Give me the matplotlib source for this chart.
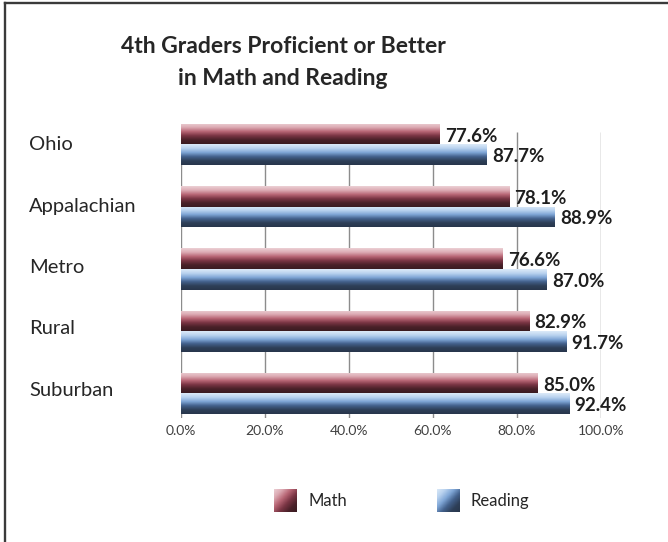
import numpy as np
import matplotlib
matplotlib.use("Agg")
import matplotlib.pyplot as plt
from matplotlib.colors import LinearSegmentedColormap
from matplotlib.lines import Line2D

plt.rcParams['font.family'] = ['Lato', 'DejaVu Sans']

regions = ["Ohio", "Appalachian", "Metro", "Rural", "Suburban"]
# bar lengths as drawn in the picture (Ohio bars are drawn shorter than their labels)
math = [61.6, 78.1, 76.6, 82.9, 85.0]
reading = [72.8, 88.9, 87.0, 91.7, 92.4]
math_labels = ["77.6%", "78.1%", "76.6%", "82.9%", "85.0%"]
reading_labels = ["87.7%", "88.9%", "87.0%", "91.7%", "92.4%"]
ticks = [0, 20, 40, 60, 80, 100]

W, H = 668, 542
fig = plt.figure(figsize=(W / 100, H / 100), dpi=100)


def px(x0, y0, x1, y1):
    # pixel box (top-left origin) -> figure fraction rect
    return [x0 / W, 1 - y1 / H, (x1 - x0) / W, (y1 - y0) / H]


math_cm = LinearSegmentedColormap.from_list(
    "m", ["#ecd0d5", "#dcaab3", "#b86675", "#7a3544", "#4a2129", "#3a1b21"])
read_cm = LinearSegmentedColormap.from_list(
    "r", ["#dceaf8", "#b9d2ef", "#7fa6d6", "#43618c", "#2e3f58", "#28364b"])

ax = fig.add_axes(px(181, 113, 601, 418))
n = len(regions)
pos = np.arange(n)[::-1]
h = 0.33
grad = np.linspace(0, 1, 100).reshape(-1, 1)

for vals, off, cm in [(math, h / 2, math_cm), (reading, -h / 2, read_cm)]:
    bars = ax.barh(pos + off, vals, height=h, color="none", zorder=2)
    for b in bars:
        x0, y0 = b.get_x(), b.get_y()
        im = ax.imshow(grad, cmap=cm, aspect="auto", origin="upper",
                       extent=(x0, x0 + b.get_width(), y0, y0 + b.get_height()),
                       zorder=3, interpolation="bilinear")
        im.set_clip_path(b)

for i in range(n):
    ax.text(math[i] + 1.3, pos[i] + h / 2 - 0.03, math_labels[i], va="center", ha="left",
            fontsize=13.5, fontweight="bold", color="#1e1e1e", zorder=4)
    ax.text(reading[i] + 1.3, pos[i] - h / 2 - 0.03, reading_labels[i], va="center",
            ha="left", fontsize=13.5, fontweight="bold", color="#1e1e1e", zorder=4)

ax.set_xlim(0, 100)
ax.set_ylim(-0.394, 4.506)
ax.vlines(ticks, -0.394, 4.2, color="#8c8c8c", lw=1, zorder=1)
ax.set_xticks(ticks)
ax.set_xticklabels(["%.1f%%" % t for t in ticks], fontsize=10, color="#404040")
ax.tick_params(axis="x", length=0, pad=5)
ax.set_yticks([])
for s in ax.spines.values():
    s.set_visible(False)
ax.patch.set_alpha(0)

for i, r in enumerate(regions):
    fig.text(29 / W, 1 - (145 + i * 61.3) / H, r, fontsize=14.5, color="#262626",
             va="center", ha="left")

fig.text(283 / W, 1 - 53 / H, "4th Graders Proficient or Better", fontsize=16.5,
         fontweight="bold", color="#262626", ha="center", va="baseline")
fig.text(283 / W, 1 - 85 / H, "in Math and Reading", fontsize=16.5,
         fontweight="bold", color="#262626", ha="center", va="baseline")

# legend
yy, xx = np.mgrid[0:1:40j, 0:1:40j]
diag = (xx + yy) / 2
for (x0, label, cm) in [(274, "Math", math_cm), (437, "Reading", read_cm)]:
    lax = fig.add_axes(px(x0, 489, x0 + 23, 512))
    lax.imshow(diag, cmap=cm, aspect="auto", interpolation="bilinear")
    lax.axis("off")
    fig.text((x0 + 34) / W, 1 - 501 / H, label, fontsize=12, color="#262626",
             va="center", ha="left")

# outer frame (top and left edges visible)
fig.add_artist(Line2D([5 / W, 5 / W], [0, 1 - 3 / H], color="#3a3a3a", lw=1.7))
fig.add_artist(Line2D([5 / W, 1], [1 - 3 / H, 1 - 3 / H], color="#3a3a3a", lw=1.7))

fig.savefig("out.png", dpi=100, facecolor="white")
